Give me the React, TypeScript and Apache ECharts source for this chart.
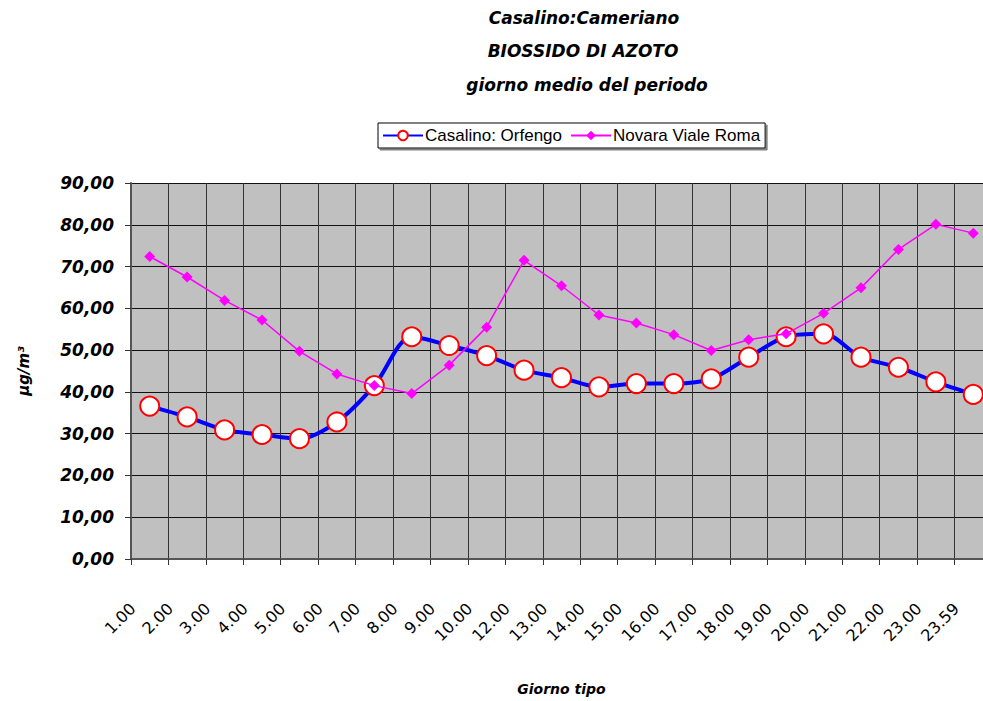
import React, { useEffect, useRef } from "react";
import * as echarts from "echarts";

const categories = [
  "1.00", "2.00", "3.00", "4.00", "5.00", "6.00", "7.00", "8.00", "9.00", "10.00",
  "12.00", "13.00", "14.00", "15.00", "16.00", "17.00", "18.00", "19.00", "20.00",
  "21.00", "22.00", "23.00", "23.59",
];

const casalinoOrfengo = [
  36.6, 34.0, 30.9, 29.8, 28.8, 32.8, 41.5, 53.2, 51.1, 48.7,
  45.2, 43.4, 41.2, 42.0, 42.0, 43.1, 48.3, 53.2, 53.9,
  48.3, 45.9, 42.4, 39.4,
];

const novaraVialeRoma = [
  72.4, 67.5, 61.9, 57.2, 49.7, 44.3, 41.5, 39.6, 46.4, 55.5,
  71.5, 65.4, 58.4, 56.5, 53.7, 49.9, 52.5, 53.9, 58.8,
  64.9, 74.1, 80.1, 78.0,
];

const yTicks = { min: 0, max: 90, interval: 10 };

const titleLines = ["Casalino:Cameriano", "BIOSSIDO DI AZOTO", "giorno medio del periodo"];

const TITLE_FONT = "italic bold 17px 'DejaVu Sans'";

export default function App() {
  const ref = useRef<HTMLDivElement>(null);

  useEffect(() => {
    document.body.style.margin = "0";
    document.body.style.overflow = "hidden";
    if (!ref.current) return;
    const chart = echarts.init(ref.current, undefined, { renderer: "svg" });
    chart.setOption({
      animation: false,
      backgroundColor: "#ffffff",
      graphic: [
        { type: "text", x: 584, y: 18, style: { text: titleLines[0], align: "center", verticalAlign: "middle", font: TITLE_FONT, fill: "#000" } },
        { type: "text", x: 583, y: 51, style: { text: titleLines[1], align: "center", verticalAlign: "middle", font: TITLE_FONT, fill: "#000" } },
        { type: "text", x: 587, y: 85, style: { text: titleLines[2], align: "center", verticalAlign: "middle", font: TITLE_FONT, fill: "#000" } },
      ],
      legend: {
        left: 378,
        top: 123,
        padding: [4, 5, 4, 4],
        itemGap: 8,
        itemWidth: 40,
        itemHeight: 12,
        backgroundColor: "#ffffff",
        borderColor: "#000000",
        borderWidth: 1,
        borderRadius: 0,
        shadowColor: "#808080",
        shadowOffsetX: 2,
        shadowOffsetY: 2,
        shadowBlur: 0,
        textStyle: { fontFamily: "'Liberation Sans'", fontSize: 17, color: "#000", padding: [0, 0, 0, -3] },
        data: ["Casalino: Orfengo", "Novara Viale Roma"],
      },
      grid: {
        left: 131,
        top: 183,
        width: 861,
        height: 384,
        show: true,
        backgroundColor: "#C0C0C0",
        borderWidth: 0,
        containLabel: false,
      },
      xAxis: {
        type: "category",
        data: categories,
        boundaryGap: true,
        name: "Giorno tipo",
        nameLocation: "middle",
        nameGap: 123,
        nameTextStyle: { fontFamily: "'DejaVu Sans'", fontStyle: "italic", fontWeight: "bold", fontSize: 14, color: "#000" },
        axisLine: { show: true, lineStyle: { color: "#555", width: 2 } },
        axisTick: { show: true, length: 6, lineStyle: { color: "#333", width: 1 }, alignWithLabel: false },
        axisLabel: {
          interval: 0,
          rotate: 45,
          margin: 30,
          padding: [0, 24, 0, 0],
          fontFamily: "'DejaVu Sans'",
          fontSize: 16,
          color: "#000",
        },
        splitLine: { show: true, interval: 0, lineStyle: { color: "#333", width: 1 } },
      },
      yAxis: {
        type: "value",
        min: yTicks.min,
        max: yTicks.max,
        interval: yTicks.interval,
        name: "µg/m³",
        nameLocation: "middle",
        nameGap: 100,
        nameRotate: 90,
        nameTextStyle: { fontFamily: "'DejaVu Sans'", fontStyle: "italic", fontWeight: "bold", fontSize: 15, color: "#000" },
        axisLine: { show: true, lineStyle: { color: "#555", width: 2 } },
        axisTick: { show: true, length: 6, lineStyle: { color: "#333", width: 1 } },
        axisLabel: {
          margin: 17,
          fontFamily: "'DejaVu Sans'",
          fontStyle: "italic",
          fontWeight: "bold",
          fontSize: 17,
          color: "#000",
          formatter: (v: number) => v.toFixed(2).replace(".", ","),
        },
        splitLine: { show: true, lineStyle: { color: "#111", width: 1 } },
      },
      series: [
        {
          name: "Casalino: Orfengo",
          type: "line",
          data: casalinoOrfengo,
          smooth: 0.3,
          symbol: "circle",
          symbolSize: 19,
          lineStyle: { color: "#0000FF", width: 4 },
          itemStyle: { color: "#ffffff", borderColor: "#FF0000", borderWidth: 2 },
          z: 2,
        },
        {
          name: "Novara Viale Roma",
          type: "line",
          data: novaraVialeRoma,
          smooth: false,
          symbol: "diamond",
          symbolSize: 11,
          lineStyle: { color: "#FF00FF", width: 1.5 },
          itemStyle: { color: "#FF00FF" },
          z: 3,
        },
      ],
    });
    return () => chart.dispose();
  }, []);

  return (
    <div
      ref={ref}
      style={{ position: "absolute", left: 0, top: 0, width: 995, height: 701 }}
    />
  );
}
